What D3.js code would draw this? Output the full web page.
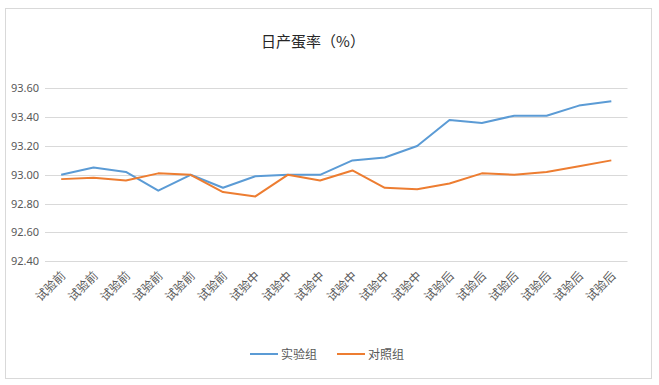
<!DOCTYPE html>
<html>
<head>
<meta charset="utf-8">
<script src="https://cdn.jsdelivr.net/npm/d3@7/dist/d3.min.js"></script>
<style>
  body { margin: 0; background: #fff; }
  text { font-family: "Noto Sans CJK SC", "Microsoft YaHei", sans-serif; }
</style>
</head>
<body>
<div id="chart"></div>
<script>
// chart data
const categories = ['试验前', '试验前', '试验前', '试验前', '试验前', '试验前',
  '试验中', '试验中', '试验中', '试验中', '试验中', '试验中',
  '试验后', '试验后', '试验后', '试验后', '试验后', '试验后'];
const shiyan = [93.00, 93.05, 93.02, 92.89, 93.00, 92.91, 92.99, 93.00, 93.00,
  93.10, 93.12, 93.20, 93.38, 93.36, 93.41, 93.41, 93.48, 93.51];
const duizhao = [92.97, 92.98, 92.96, 93.01, 93.00, 92.88, 92.85, 93.00, 92.96,
  93.03, 92.91, 92.90, 92.94, 93.01, 93.00, 93.02, 93.06, 93.10];
const seriesNames = ['实验组', '对照组'];
const yTicks = [92.4, 92.6, 92.8, 93.0, 93.2, 93.4, 93.6];

const width = 659;
const height = 385;
const colors = ['#5b9bd5', '#ed7d31'];

const svg = d3.select('#chart').append('svg')
  .attr('width', width)
  .attr('height', height);

// outer frame
svg.append('rect')
  .attr('x', 5.5).attr('y', 8.5)
  .attr('width', 646).attr('height', 370)
  .attr('fill', '#fff')
  .attr('stroke', '#d9d9d9');

const x = d3.scaleBand()
  .domain(d3.range(categories.length))
  .range([45, 627.5]);

const y = d3.scaleLinear()
  .domain([92.4, 93.6])
  .range([261.3, 88.3]);

// gridlines
svg.append('g')
  .selectAll('line')
  .data(yTicks)
  .enter().append('line')
  .attr('x1', 45).attr('x2', 627.5)
  .attr('y1', d => Math.round(y(d)) + 0.5)
  .attr('y2', d => Math.round(y(d)) + 0.5)
  .attr('stroke', '#d9d9d9')
  .attr('stroke-width', 1);

// y axis labels
const yAxis = d3.axisLeft(y)
  .tickValues(yTicks)
  .tickFormat(d3.format('.2f'))
  .tickSize(0)
  .tickPadding(6);

svg.append('g')
  .attr('transform', 'translate(45,0)')
  .call(yAxis)
  .call(g => g.select('.domain').remove())
  .selectAll('text')
  .style('font-family', '"Noto Sans", "Open Sans", sans-serif')
  .style('font-size', '11px')
  .attr('fill', '#595959');

// x axis labels
const xAxis = d3.axisBottom(x)
  .tickFormat(i => categories[i])
  .tickSize(0);

svg.append('g')
  .attr('transform', 'translate(0,261.3)')
  .call(xAxis)
  .call(g => g.select('.domain').remove())
  .selectAll('text')
  .style('font-size', '12px')
  .attr('fill', '#595959')
  .attr('text-anchor', 'end')
  .attr('dy', 0)
  .attr('transform', 'translate(3,13) rotate(-45)');

// lines
const line = d3.line()
  .x((d, i) => x(i) + x.bandwidth() / 2)
  .y(d => y(d));

[shiyan, duizhao].forEach((s, k) => {
  svg.append('path')
    .datum(s)
    .attr('fill', 'none')
    .attr('stroke', colors[k])
    .attr('stroke-width', 2)
    .attr('stroke-linejoin', 'round')
    .attr('d', line);
});

// title
svg.append('text')
  .attr('x', 313)
  .attr('y', 47)
  .attr('text-anchor', 'middle')
  .style('font-size', '15px')
  .attr('fill', '#262626')
  .text('日产蛋率（%）');

// legend
const legend = svg.append('g');
const legendX = [250, 337];
seriesNames.forEach((name, k) => {
  legend.append('line')
    .attr('x1', legendX[k]).attr('x2', legendX[k] + 28)
    .attr('y1', 354).attr('y2', 354)
    .attr('stroke', colors[k])
    .attr('stroke-width', 2);
  legend.append('text')
    .attr('x', legendX[k] + 31)
    .attr('y', 359)
    .style('font-size', '12px')
    .attr('fill', '#595959')
    .text(name);
});
</script>
</body>
</html>
